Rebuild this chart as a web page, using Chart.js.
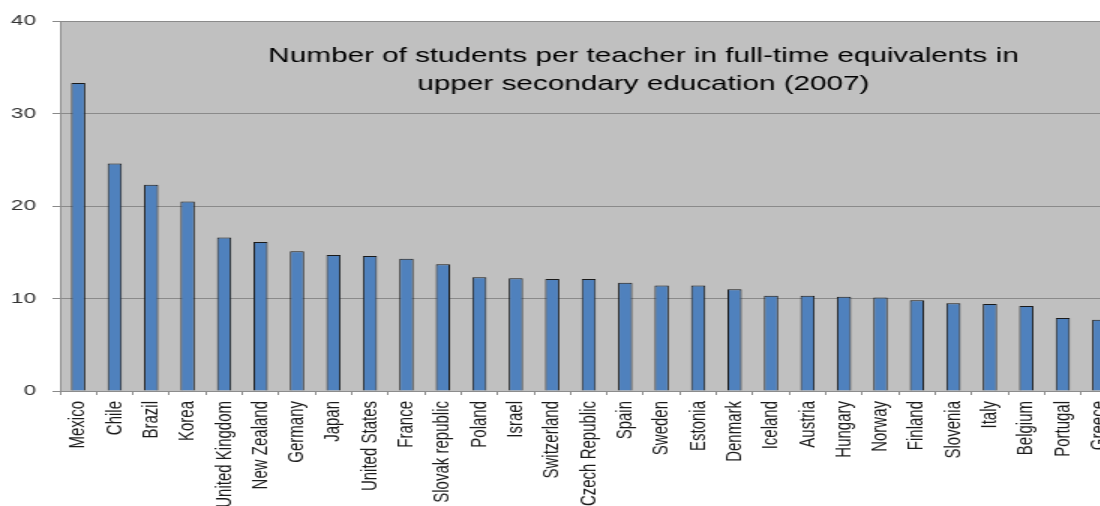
<!DOCTYPE html>
<html>
<head>
<meta charset="utf-8">
<script src="https://cdn.jsdelivr.net/npm/chart.js@4"></script>
<style>
    html, body { margin: 0; padding: 0; background: #fff; overflow: hidden; }
    #ratioChart { display: block; }
</style>
</head>
<body>
<!-- drawn narrow, shown 1.5x wider like the original spreadsheet export -->
<canvas id="ratioChart" width="746" height="506" style="width:1119px;height:506px"></canvas>
<script>
// Students per teacher, upper secondary (2007)
const countries = ['Mexico', 'Chile', 'Brazil', 'Korea', 'United Kingdom', 'New Zealand', 'Germany',
    'Japan', 'United States', 'France', 'Slovak republic', 'Poland', 'Israel', 'Switzerland',
    'Czech Republic', 'Spain', 'Sweden', 'Estonia', 'Denmark', 'Iceland', 'Austria', 'Hungary',
    'Norway', 'Finland', 'Slovenia', 'Italy', 'Belgium', 'Portugal', 'Greece'];
const ratios = [33.3, 24.6, 22.3, 20.5, 16.6, 16.1, 15.1, 14.7, 14.6, 14.3, 13.7, 12.3, 12.2, 12.1,
    12.1, 11.7, 11.4, 11.4, 11.0, 10.3, 10.3, 10.2, 10.1, 9.8, 9.5, 9.4, 9.2, 7.9, 7.7];
const yTicks = [0, 10, 20, 30, 40];
const titleLines = ['Number of students per teacher in full-time equivalents in',
    'upper secondary education (2007)'];

// grey plot background + title inside the plot area
const plotArea = {
    id: 'plotArea',
    beforeDraw(chart) {
        const { ctx, chartArea: a } = chart;
        ctx.save();
        ctx.fillStyle = '#c0c0c0';
        ctx.fillRect(a.left, a.top, a.right - a.left, a.bottom - a.top);
        ctx.restore();
    },
    afterDatasetsDraw(chart) {
        const ctx = chart.ctx;
        ctx.save();
        ctx.font = '19.8px "Liberation Sans", Arial, sans-serif';
        ctx.fillStyle = '#000';
        ctx.textAlign = 'center';
        ctx.textBaseline = 'alphabetic';
        ctx.fillText(titleLines[0], 429, 62);
        ctx.fillText(titleLines[1], 429, 90);
        ctx.restore();
    }
};

const ctx = document.getElementById('ratioChart').getContext('2d');
new Chart(ctx, {
    type: 'bar',
    data: {
        labels: countries,
        datasets: [{
            data: ratios,
            backgroundColor: '#4f81bd',
            borderColor: '#1a1a1a',
            borderWidth: 1,
            borderSkipped: 'bottom',
            barPercentage: 0.39,
            categoryPercentage: 1
        }]
    },
    options: {
        responsive: false,
        animation: false,
        devicePixelRatio: 1,
        layout: { padding: { top: 21, right: 1, left: 0, bottom: 0 } },
        plugins: {
            legend: { display: false },
            tooltip: { enabled: false }
        },
        scales: {
            x: {
                grid: {
                    offset: true,
                    drawOnChartArea: false,
                    tickLength: 4,
                    color: '#8c8c8c'
                },
                border: { color: '#8c8c8c' },
                ticks: {
                    autoSkip: false,
                    minRotation: 90,
                    maxRotation: 90,
                    padding: 6,
                    color: '#1a1a1a',
                    font: { family: '"Liberation Sans", Arial, sans-serif', size: 15 }
                },
                afterFit(scale) {
                    scale.height = 115;
                    scale.paddingLeft = 0;
                    scale.paddingRight = 0;
                }
            },
            y: {
                min: yTicks[0],
                max: yTicks[yTicks.length - 1],
                afterBuildTicks(scale) {
                    scale.ticks = yTicks.map(v => ({ value: v }));
                },
                grid: {
                    color: '#8a8a8a',
                    tickLength: 5
                },
                border: { color: '#8c8c8c' },
                ticks: {
                    padding: 11,
                    color: '#333',
                    font: { family: '"Liberation Sans", Arial, sans-serif', size: 15 }
                },
                afterFit(scale) {
                    scale.width = 40;
                }
            }
        }
    },
    plugins: [plotArea]
});
</script>
</body>
</html>
